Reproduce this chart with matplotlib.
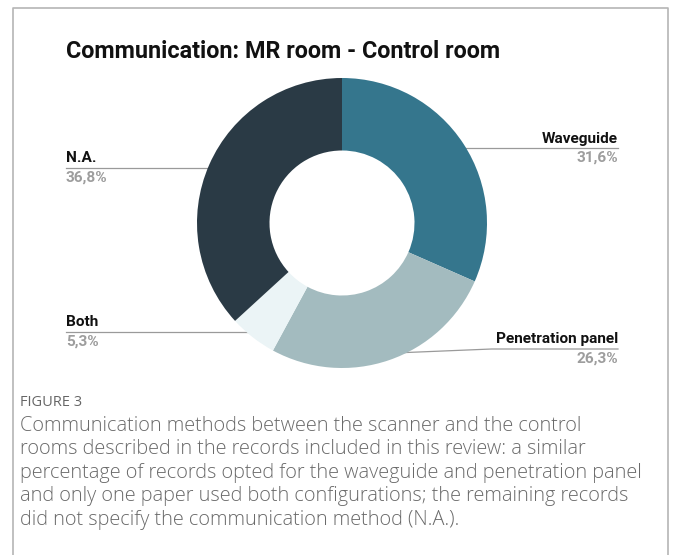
import numpy as np
import matplotlib.pyplot as plt

labels = ["Waveguide", "Penetration panel", "Both", "N.A."]
values = [31.6, 26.3, 5.3, 36.8]
pct_text = ["31,6%", "26,3%", "5,3%", "36,8%"]
colors = ["#35768d", "#a3bbbf", "#ebf4f6", "#2a3a45"]

title = "Communication: MR room - Control room"
caption_head = "FIGURE 3"
caption_lines = [
    "Communication methods between the scanner and the control",
    "rooms described in the records included in this review: a similar",
    "percentage of records opted for the waveguide and penetration panel",
    "and only one paper used both configurations; the remaining records",
    "did not specify the communication method (N.A.).",
]

W, H = 681, 555
fig = plt.figure(figsize=(W / 100, H / 100), dpi=100)

# overlay axes in pixel coords (y down)
ov = fig.add_axes([0, 0, 1, 1])
ov.set_xlim(0, W)
ov.set_ylim(H, 0)
ov.axis("off")

# card border
ov.plot([13, 13, 668, 668], [H + 5, 8, 8, H + 5], color="#b5b5b5", lw=1.2)

# donut
cx, cy, R = 342, 223, 145
pa = fig.add_axes([(cx - R) / W, (H - cy - R) / H, 2 * R / W, 2 * R / H])
wedges, _ = pa.pie(values, colors=colors, startangle=90, counterclock=False,
                   radius=1, wedgeprops=dict(width=0.5, linewidth=0))
pa.set_xlim(-1, 1)
pa.set_ylim(-1, 1)
pa.set_aspect("auto")
pa.axis("off")

ov.text(66, 52, title, fontsize=16.8, fontweight="bold", family="Roboto",
        color="#111111", va="center", ha="left")

# label placement: (side, line y)
lab_pos = {"Waveguide": ("right", 148), "Penetration panel": ("right", 349),
           "Both": ("left", 332), "N.A.": ("left", 168)}
left_x, right_x = 66, 618

for w, lab, pt in zip(wedges, labels, pct_text):
    ang = np.deg2rad((w.theta1 + w.theta2) / 2)
    dx = cx + 0.95 * R * np.cos(ang)
    dy = cy - 0.95 * R * np.sin(ang)
    side, ly = lab_pos[lab]
    tx = right_x if side == "right" else left_x
    ha = "right" if side == "right" else "left"
    if abs(dy - ly) > 2:
        elbow = dx + 105 if side == "right" else dx - 105
        ov.plot([dx, elbow, tx], [dy, ly, ly], color="#9a9a9a", lw=0.9)
    else:
        ov.plot([dx, tx], [ly, ly], color="#9a9a9a", lw=0.9)
    ov.plot(dx, dy, "o", ms=2, color="#9a9a9a")
    ov.text(tx, ly - 2.5, lab, fontsize=11.1, fontweight="bold", family="Roboto",
            color="#111111", ha=ha, va="bottom")
    ov.text(tx, ly + 3, pt, fontsize=11.1, fontweight="bold", family="Roboto",
            color="#9d9d9d", ha=ha, va="top")

ov.text(20, 403, caption_head, fontsize=10.5, family="Open Sans",
        color="#666666", va="center", ha="left")
for i, line in enumerate(caption_lines):
    ov.text(20, 426 + i * 23.5, line, fontsize=14.3, family="Open Sans",
            fontweight="light", color="#6a6a6a", va="center", ha="left")

fig.savefig("out.png", dpi=100)
